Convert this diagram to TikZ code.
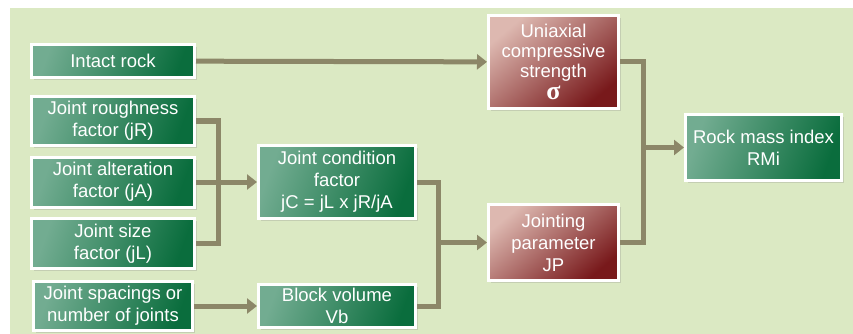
\documentclass[tikz,border=0pt]{standalone}
\usepackage{fontspec}
\setsansfont{Liberation Sans}
\newfontfamily\sigmafont{Liberation Serif}
\usetikzlibrary{arrows.meta,shadows}

\definecolor{bgGreen}{HTML}{DBE9C3}
\definecolor{linkCol}{HTML}{8C8768}
\definecolor{gnLight}{HTML}{72AC91}
\definecolor{gnMid}{HTML}{2A7B52}
\definecolor{gnDark}{HTML}{0A6D3D}
\definecolor{rdLight}{HTML}{DDB8B0}
\definecolor{rdMid}{HTML}{9E4644}
\definecolor{rdDark}{HTML}{78191B}

\tikzset{
  box/.style={draw=white, line width=3pt, inner sep=0pt, align=center,
    text=white, font=\sffamily\fontsize{18.5}{22}\selectfont,
    drop shadow={opacity=0.25, shadow xshift=2.5pt, shadow yshift=-2.5pt}},
  gbox/.style={box, top color=gnLight, middle color=gnMid, bottom color=gnDark, shading angle=70},
  rbox/.style={box, top color=rdLight, middle color=rdMid, bottom color=rdDark, shading angle=40},
  link/.style={draw=linkCol, line width=5pt},
  arr/.style={link, -{Triangle[length=10pt, width=15pt]}}
}

\begin{document}
\begin{tikzpicture}[x=1pt, y=-1pt]
 \useasboundingbox (0,0) rectangle (853,334);
 \fill[bgGreen] (10,8) rectangle (853,334);

 \node[gbox, minimum width=163pt, minimum height=33pt] (intact) at (113,61) {Intact rock};
 \node[gbox, minimum width=163pt, minimum height=49pt] (rough) at (113,121) {Joint roughness\\factor (jR)};
 \node[gbox, minimum width=163pt, minimum height=50pt] (alter) at (113,182) {Joint alteration\\factor (jA)};
 \node[gbox, minimum width=163pt, minimum height=50pt] (jsize) at (113,243.5) {Joint size\\factor (jL)};
 \node[gbox, minimum width=159pt, minimum height=49pt] (spacing) at (113,306) {Joint spacings or\\number of joints};
 \node[gbox, minimum width=157pt, minimum height=73pt] (cond) at (337,182) {Joint condition\\factor\\jC = jL x jR/jA};
 \node[gbox, minimum width=157pt, minimum height=43pt] (block) at (337,306) {Block volume\\Vb};
 \node[rbox, minimum width=130pt, minimum height=93pt, font=\sffamily\fontsize{18.5}{20}\selectfont] (ucs) at (553.5,62)
   {Uniaxial\\compressive\\strength\\[2pt]{\sigmafont\bfseries\fontsize{26}{24}\selectfont σ}};
 \node[rbox, minimum width=130pt, minimum height=76pt] (jp) at (553.5,242.5) {Jointing\\parameter\\JP};
 \node[gbox, minimum width=156pt, minimum height=66pt] (rmi) at (763.5,147.5) {Rock mass index\\RMi};

 \coordinate (jnA) at (218,182);
 \coordinate (jnB) at (438,242.5);
 \coordinate (jnC) at (643,147.5);

 \draw[arr] (intact) -- (ucs);
 \draw[link] (rough.east) -| (jnA) |- (jsize.east);
 \draw[arr] (alter) -- (cond);
 \draw[arr] (spacing) -- (block);
 \draw[link] (cond.east) -| (jnB) |- (block.east);
 \draw[arr] (jnB) -- (jp.west);
 \draw[link] (ucs.east) -| (jnC) |- (jp.east);
 \draw[arr] (jnC) -- (rmi.west);
\end{tikzpicture}
\end{document}
